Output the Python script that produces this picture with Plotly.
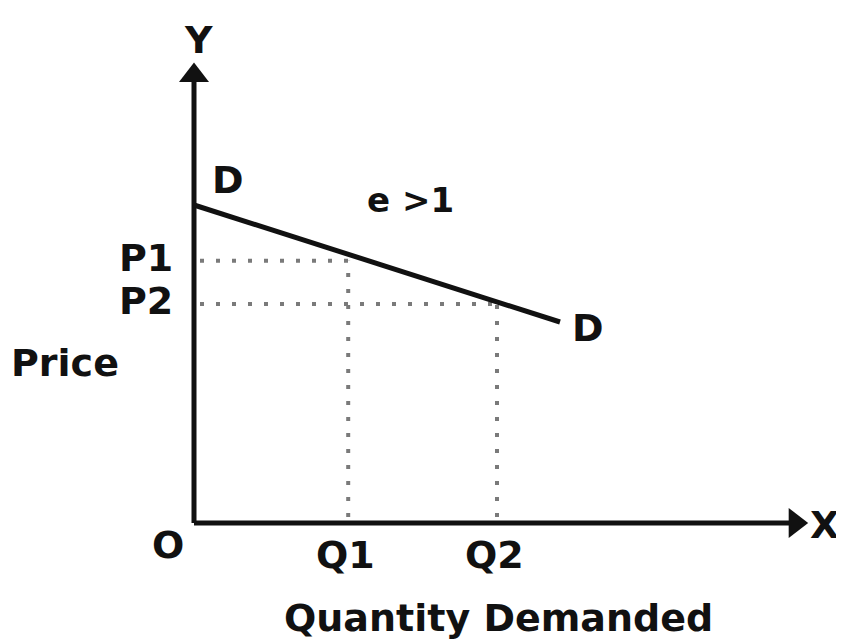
import plotly.graph_objects as go

# ---- data (arbitrary units) ----
demand_q = [0.0, 6.1]          # D curve end points (quantity)
demand_p = [5.3, 3.35]         # D curve end points (price)
quantities = [2.57, 5.05]      # Q1, Q2
prices = [4.37, 3.65]          # P1, P2
q_labels = ["Q1", "Q2"]
p_labels = ["P1", "P2"]
x_axis_end = 10.27
y_axis_end = 7.68

FONT = "DejaVu Sans"
FS = 38
BLACK = "#111111"
DOT = dict(color="#7a7a7a", width=4, dash="4px,12px")

fig = go.Figure()

# dotted guide lines
for q, p in zip(quantities, prices):
    fig.add_trace(go.Scatter(x=[0.1, q], y=[p, p], mode="lines", line=DOT,
                             hoverinfo="skip", showlegend=False))
    fig.add_trace(go.Scatter(x=[q, q], y=[0.1, p], mode="lines", line=DOT,
                             hoverinfo="skip", showlegend=False))

# axes
fig.add_trace(go.Scatter(x=[0, x_axis_end - 0.2], y=[0, 0], mode="lines",
                         line=dict(color=BLACK, width=5), showlegend=False, hoverinfo="skip"))
fig.add_trace(go.Scatter(x=[0, 0], y=[0, y_axis_end - 0.2], mode="lines",
                         line=dict(color=BLACK, width=5), showlegend=False, hoverinfo="skip"))
# arrow heads
fig.add_trace(go.Scatter(x=[x_axis_end - 0.25], y=[0], mode="markers",
                         marker=dict(symbol="triangle-right", size=26, color=BLACK),
                         showlegend=False, hoverinfo="skip"))
fig.add_trace(go.Scatter(x=[0], y=[y_axis_end - 0.22], mode="markers",
                         marker=dict(symbol="triangle-up", size=26, color=BLACK),
                         showlegend=False, hoverinfo="skip"))

# demand curve
fig.add_trace(go.Scatter(x=demand_q, y=demand_p, mode="lines",
                         line=dict(color=BLACK, width=5), showlegend=False, hoverinfo="skip"))

def label(text, x, y, size=FS, **kw):
    fig.add_annotation(text=text, x=x, y=y, xref="x", yref="y", showarrow=False,
                       font=dict(family=FONT, size=size, color=BLACK, weight="bold"), **kw)

for q, t in zip(quantities, q_labels):
    label(t, q, -0.53, xshift=-3)
for p, t in zip(prices, p_labels):
    label(t, -0.8, p, yshift=3)

label("Y", 0.07, 8.05)
label("X", 10.5, -0.03)
label("O", -0.43, -0.37)
label("D", demand_q[0] + 0.57, demand_p[0] + 0.42)
label("D", demand_q[1] + 0.47, demand_p[1] - 0.1)
label("e >1", 3.6, 5.38, size=34)
label("Price", -2.15, 2.67)
label("Quantity Demanded", 5.08, -1.58)

# the page body has an 8px margin, so the figure is 8px smaller and ranges start 8px in
fig.update_layout(
    width=836, height=634,
    margin=dict(l=0, r=0, t=0, b=0),
    paper_bgcolor="white", plot_bgcolor="white",
    xaxis=dict(range=[-3.1, 10.8333], visible=False, fixedrange=True),
    yaxis=dict(range=[-1.9833, 8.5833], visible=False, fixedrange=True),
    showlegend=False,
)

fig.write_html("out.html")
